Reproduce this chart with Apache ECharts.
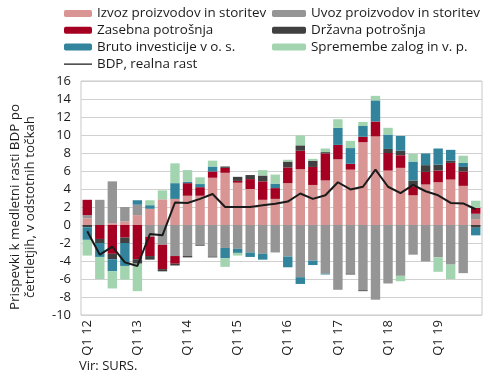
<!DOCTYPE html>
<html>
<head>
<meta charset="utf-8">
<script src="https://cdn.jsdelivr.net/npm/echarts@6/dist/echarts.min.js"></script>
<style>
html,body{margin:0;padding:0;background:#fff;}
#c{width:490px;height:381px;}
</style>
</head>
<body>
<div id="c"></div>
<script>
var categories = [];
var years = ['12','13','14','15','16','17','18','19'];
years.forEach(function(y){ for (var q=1;q<=4;q++) categories.push('Q'+q+' '+y); });

var izvoz = [0.75,0,0.2,0.4,1.1,1.8,2.85,2.9,3.25,3.25,5.25,5.8,4.7,4.0,2.8,2.9,4.65,6.2,4.45,4.95,7.3,6.15,9.2,9.85,6.05,6.35,3.3,4.5,4.75,5.05,4.35,0.65];
var uvoz = [0.35,2.8,4.65,1.6,1.15,-1.3,-2.2,-3.45,-3.45,-2.2,-3.5,-2.55,-2.65,-3.05,-3.2,-3.05,-3.5,-5.8,-3.95,-5.4,-7.2,-5.4,-7.25,-8.3,-6.5,-5.65,-3.3,-4.05,-3.6,-4.4,-5.35,0.6];
var zasebna = [1.7,-1.55,-3.2,-1.4,-3.8,-2.15,-2.7,-0.85,1.4,0.95,0.7,0.55,0.2,1.1,2.05,1.2,1.75,2.05,2.0,3.0,1.6,0.65,0.6,1.65,1.95,1.4,1.0,1.4,1.3,1.85,1.6,0.65];
var drzavna = [-0.25,-0.45,-0.6,-0.6,-0.5,-0.4,-0.25,-0.2,-0.15,-0.1,-0.1,0.15,0.45,0.45,0.65,0,0.65,0.6,0.7,0.15,0,-0.1,-0.1,0,0.45,0.5,0.65,0.75,0.65,0.25,0.5,-0.3];
var investicije = [-1.4,-1.55,-1.35,-2.55,0.5,0.4,0,1.75,0.15,0.35,0.55,-1.15,-0.45,-0.5,-0.65,0.5,-1.2,-0.75,-0.5,-0.1,1.9,1.75,1.2,2.35,1.6,1.65,2.1,1.3,1.8,1.2,0.45,-0.85];
var zaloge = [-1.75,-2.45,-1.9,-1.5,-3.05,0.55,1.0,2.2,1.3,0.75,0.65,-0.95,-0.3,0,0.6,1.0,0.2,1.1,0.2,0.4,0.95,0.8,0.45,0.5,0.75,-0.6,0.85,0,-1.6,-1.6,0.8,0.8];
var bdp = [-0.7,-3.3,-2.4,-4.15,-4.55,-1.0,-1.15,2.5,2.45,2.9,3.45,2.0,2.0,2.0,2.2,2.35,2.6,3.5,2.9,3.3,4.75,3.95,4.25,6.15,4.25,3.55,4.45,3.75,3.3,2.45,2.4,1.75];

var names = ['Izvoz proizvodov in storitev','Uvoz proizvodov in storitev','Zasebna potrošnja','Državna potrošnja','Bruto investicije v o. s.','Spremembe zalog in v. p.','BDP, realna rast'];
var colors = ['#D99594','#959595','#A50021','#404040','#31849B','#A2D5AF','#1a1a1a'];
var barData = [izvoz, uvoz, zasebna, drzavna, investicije, zaloge];

var FONT = 'Open Sans';
var chart = echarts.init(document.getElementById('c'), null, {renderer:'canvas'});

var series = barData.map(function(d,i){
  return {name:names[i], type:'bar', stack:'a', data:d, barCategoryGap:'25%',
    itemStyle:{color:colors[i]}, emphasis:{disabled:true}, animation:false};
});
series.push({name:names[6], type:'line', data:bdp, symbol:'none',
  lineStyle:{color:colors[6], width:2}, itemStyle:{color:colors[6]}, z:10, animation:false});

var lineIcon = 'path://M0,0h0.01v0.01h-0.01z M0,3h28v1.4h-28z M27.99,6.99h0.01v0.01h-0.01z';
var legText = {fontFamily:FONT, fontSize:13.4, color:'#1a1a1a', lineHeight:14};
var option = {
  animation:false,
  color: colors,
  grid:{left:81, right:8, top:81, bottom:66, show:true, borderColor:'#c8c8c8', borderWidth:1},
  legend:[
    {left:64, top:6.5, orient:'vertical', itemWidth:28, itemHeight:7, itemGap:2.8, textStyle:legText, align:'left',
     data:[names[0],names[2],names[4],{name:names[6], icon:lineIcon}], selectedMode:false, padding:0},
    {left:272, top:6.5, orient:'vertical', itemWidth:34, itemHeight:7, itemGap:2.8, textStyle:legText, align:'left',
     data:[names[1],names[3],names[5]], selectedMode:false, padding:0}
  ],
  xAxis:{type:'category', data:categories, axisLine:{show:false}, axisTick:{show:false},
    axisLabel:{interval:3, rotate:90, margin:5, fontFamily:FONT, fontSize:13, color:'#1a1a1a'}},
  yAxis:{type:'value', min:-10, max:16, interval:2,
    axisLine:{show:false}, axisTick:{show:false},
    splitLine:{lineStyle:{color:'#d0d0d0', width:1}},
    axisLabel:{margin:10, fontFamily:FONT, fontSize:13, color:'#1a1a1a'}},
  graphic:[
    {type:'text', x:23, y:207, rotation:Math.PI/2,
     style:{text:'Prispevki k medletni rasti BDP po\nčetrtletjih, v odstotnih točkah', fontFamily:FONT, fontSize:13.4,
       fill:'#1a1a1a', textAlign:'center', textVerticalAlign:'middle', lineHeight:15}},
    {type:'text', left:79, top:360,
     style:{text:'Vir: SURS.', fontFamily:FONT, fontSize:13, fill:'#1a1a1a'}}
  ],
  series: series
};
chart.setOption(option);
</script>
</body>
</html>
